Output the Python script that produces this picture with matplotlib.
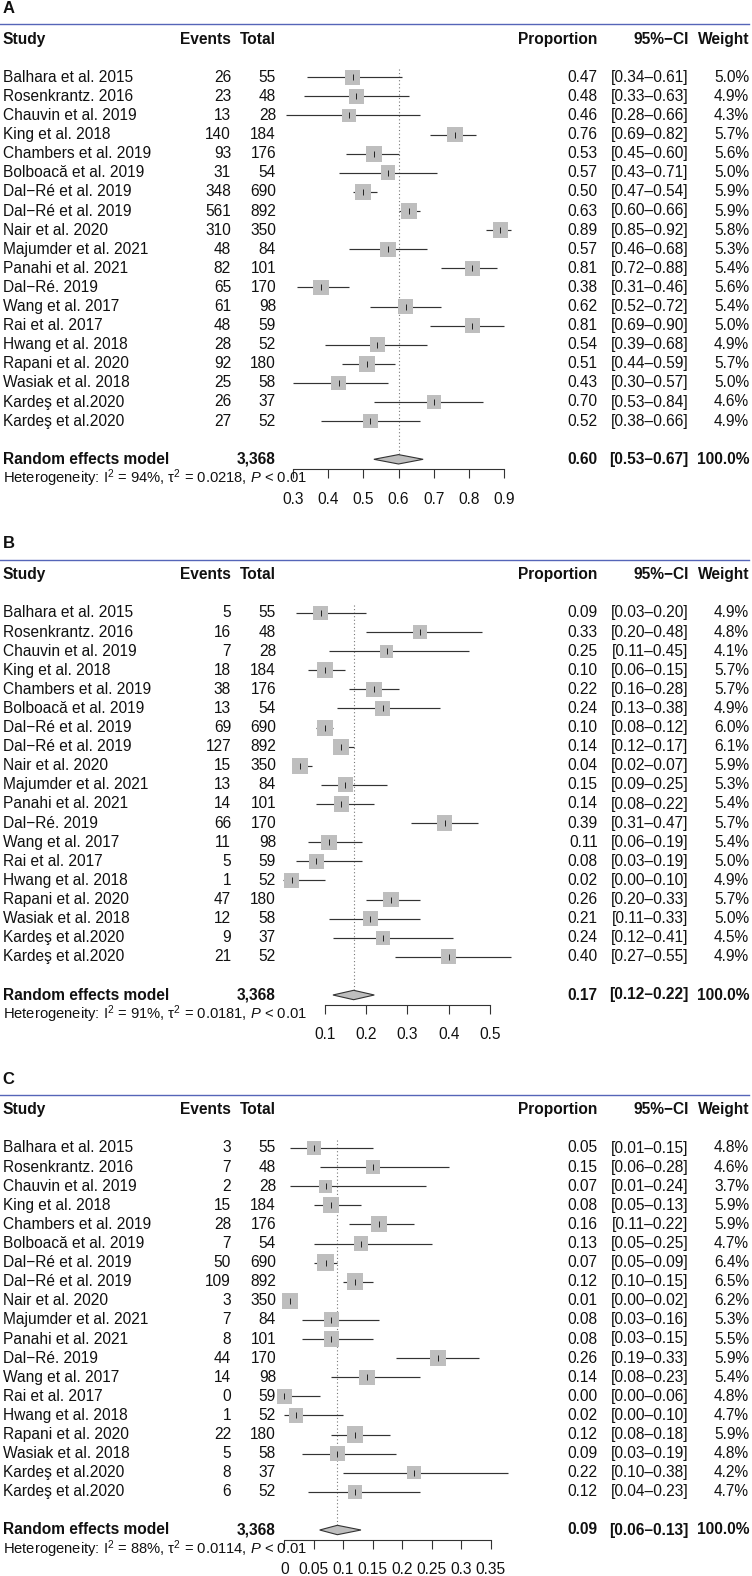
import numpy as np
import matplotlib
matplotlib.use("Agg")
import matplotlib.pyplot as plt
import matplotlib.transforms as mtransforms
from matplotlib.lines import Line2D

plt.rcParams['font.family'] = ['Liberation Sans', 'DejaVu Sans']
plt.rcParams['mathtext.fontset'] = 'custom'
plt.rcParams['mathtext.rm'] = 'Liberation Sans'
plt.rcParams['mathtext.it'] = 'Liberation Sans:italic'
plt.rcParams['mathtext.bf'] = 'Liberation Sans:bold'

# ---------------- data ----------------
studies = ["Balhara et al. 2015", "Rosenkrantz. 2016", "Chauvin et al. 2019", "King et al. 2018",
           "Chambers et al. 2019", "Bolboacă et al. 2019", "Dal\u2212Ré et al. 2019", "Dal\u2212Ré et al. 2019",
           "Nair et al. 2020", "Majumder et al. 2021", "Panahi et al. 2021", "Dal\u2212Ré. 2019",
           "Wang et al. 2017", "Rai et al. 2017", "Hwang et al. 2018", "Rapani et al. 2020",
           "Wasiak et al. 2018", "Kardeş et al.2020", "Kardeş et al.2020"]
totals = [55, 48, 28, 184, 176, 54, 690, 892, 350, 84, 101, 170, 98, 59, 52, 180, 58, 37, 52]
total_all = "3,368"

events_A = [26, 23, 13, 140, 93, 31, 348, 561, 310, 48, 82, 65, 61, 48, 28, 92, 25, 26, 27]
prop_A = [0.47, 0.48, 0.46, 0.76, 0.53, 0.57, 0.50, 0.63, 0.89, 0.57, 0.81, 0.38, 0.62, 0.81, 0.54, 0.51, 0.43, 0.70, 0.52]
lo_A = [0.34, 0.33, 0.28, 0.69, 0.45, 0.43, 0.47, 0.60, 0.85, 0.46, 0.72, 0.31, 0.52, 0.69, 0.39, 0.44, 0.30, 0.53, 0.38]
hi_A = [0.61, 0.63, 0.66, 0.82, 0.60, 0.71, 0.54, 0.66, 0.92, 0.68, 0.88, 0.46, 0.72, 0.90, 0.68, 0.59, 0.57, 0.84, 0.66]
w_A = [5.0, 4.9, 4.3, 5.7, 5.6, 5.0, 5.9, 5.9, 5.8, 5.3, 5.4, 5.6, 5.4, 5.0, 4.9, 5.7, 5.0, 4.6, 4.9]
sum_A = (0.60, 0.53, 0.67)
het_A = ("94%", "0.0218")
ticks_A = [0.3, 0.4, 0.5, 0.6, 0.7, 0.8, 0.9]
ticklabels_A = ["0.3", "0.4", "0.5", "0.6", "0.7", "0.8", "0.9"]

events_B = [5, 16, 7, 18, 38, 13, 69, 127, 15, 13, 14, 66, 11, 5, 1, 47, 12, 9, 21]
prop_B = [0.09, 0.33, 0.25, 0.10, 0.22, 0.24, 0.10, 0.14, 0.04, 0.15, 0.14, 0.39, 0.11, 0.08, 0.02, 0.26, 0.21, 0.24, 0.40]
lo_B = [0.03, 0.20, 0.11, 0.06, 0.16, 0.13, 0.08, 0.12, 0.02, 0.09, 0.08, 0.31, 0.06, 0.03, 0.00, 0.20, 0.11, 0.12, 0.27]
hi_B = [0.20, 0.48, 0.45, 0.15, 0.28, 0.38, 0.12, 0.17, 0.07, 0.25, 0.22, 0.47, 0.19, 0.19, 0.10, 0.33, 0.33, 0.41, 0.55]
w_B = [4.9, 4.8, 4.1, 5.7, 5.7, 4.9, 6.0, 6.1, 5.9, 5.3, 5.4, 5.7, 5.4, 5.0, 4.9, 5.7, 5.0, 4.5, 4.9]
sum_B = (0.17, 0.12, 0.22)
het_B = ("91%", "0.0181")
ticks_B = [0.1, 0.2, 0.3, 0.4, 0.5]
ticklabels_B = ["0.1", "0.2", "0.3", "0.4", "0.5"]

events_C = [3, 7, 2, 15, 28, 7, 50, 109, 3, 7, 8, 44, 14, 0, 1, 22, 5, 8, 6]
prop_C = [0.05, 0.15, 0.07, 0.08, 0.16, 0.13, 0.07, 0.12, 0.01, 0.08, 0.08, 0.26, 0.14, 0.00, 0.02, 0.12, 0.09, 0.22, 0.12]
lo_C = [0.01, 0.06, 0.01, 0.05, 0.11, 0.05, 0.05, 0.10, 0.00, 0.03, 0.03, 0.19, 0.08, 0.00, 0.00, 0.08, 0.03, 0.10, 0.04]
hi_C = [0.15, 0.28, 0.24, 0.13, 0.22, 0.25, 0.09, 0.15, 0.02, 0.16, 0.15, 0.33, 0.23, 0.06, 0.10, 0.18, 0.19, 0.38, 0.23]
w_C = [4.8, 4.6, 3.7, 5.9, 5.9, 4.7, 6.4, 6.5, 6.2, 5.3, 5.5, 5.9, 5.4, 4.8, 4.7, 5.9, 4.8, 4.2, 4.7]
sum_C = (0.09, 0.06, 0.13)
het_C = ("88%", "0.0114")
ticks_C = [0, 0.05, 0.1, 0.15, 0.2, 0.25, 0.3, 0.35]
ticklabels_C = ["0", "0.05", "0.1", "0.15", "0.2", "0.25", "0.3", "0.35"]

# ---------------- layout ----------------
W, H = 752, 1576
fig = plt.figure(figsize=(W / 100, H / 100), dpi=100)

def fx(px):
    return px / W

def fy(py):
    return 1 - py / H

ROW_H = 19.1
FIRST = 53.0        # first row below blue line
AXIS = 445.0        # axis line below blue line
FS = 11.2
TXT = '#111111'
SQ = '#BEBEBE'

panels = [
    ("A", 24.3, events_A, prop_A, lo_A, hi_A, w_A, sum_A, het_A, ticks_A, ticklabels_A, (293.0, 504.0)),
    ("B", 560.0, events_B, prop_B, lo_B, hi_B, w_B, sum_B, het_B, ticks_B, ticklabels_B, (324.7, 490.0)),
    ("C", 1095.0, events_C, prop_C, lo_C, hi_C, w_C, sum_C, het_C, ticks_C, ticklabels_C, (284.3, 490.7)),
]

AX_L, AX_R = 265.0, 525.0

for (lab, blue, ev, pr, lo, hi, wt, sm, het, ticks, tlabs, tpx) in panels:
    ax = fig.add_axes([fx(AX_L), fy(blue + AXIS), fx(AX_R) - fx(AX_L), AXIS / H])
    ax.set_facecolor('none')
    scale = (tpx[1] - tpx[0]) / (ticks[-1] - ticks[0])
    ax.set_xlim(ticks[0] + (AX_L - tpx[0]) / scale, ticks[0] + (AX_R - tpx[0]) / scale)
    ytop = -FIRST / ROW_H
    ybot = (AXIS - FIRST) / ROW_H
    ax.set_ylim(ybot, ytop)
    for s in ['top', 'left', 'right']:
        ax.spines[s].set_visible(False)
    ax.spines['bottom'].set_bounds(ticks[0], ticks[-1])
    ax.spines['bottom'].set_color('#333333')
    ax.spines['bottom'].set_linewidth(0.8)
    ax.set_yticks([])
    ax.set_xticks(ticks)
    ax.set_xticklabels(tlabs, fontsize=FS, color=TXT)
    ax.tick_params(axis='x', direction='out', length=6.5, width=0.8, color='#333333', pad=9.5)

    rows = np.arange(len(studies))
    srow = len(studies) + 1

    # CI lines, squares, ticks
    ax.hlines(rows, lo, hi, color='#333333', lw=0.85, zorder=1)
    sizes = [(6.6 * np.sqrt(w) * 0.72) ** 2 for w in wt]
    ax.scatter(pr, rows, marker='s', s=sizes, color=SQ, linewidths=0, zorder=2)
    ax.scatter(pr, rows, marker='|', s=14, color='#222222', linewidths=0.7, zorder=3)

    # dotted line at pooled estimate
    hh = 4.7 / ROW_H
    ax.plot([sm[0], sm[0]], [-0.42, srow - hh], ls=(0, (1, 2.2)), color='#777777', lw=0.8, zorder=0)
    # diamond
    ax.fill([sm[1], sm[0], sm[2], sm[0]], [srow, srow - hh, srow, srow + hh],
            facecolor=SQ, edgecolor='#333333', lw=0.8, zorder=3)

    trans = mtransforms.blended_transform_factory(fig.transFigure, ax.transData)

    # panel letter and blue rule
    ax.text(fx(2.5), -(FIRST + 16.0) / ROW_H, lab, transform=trans, ha='left', va='center',
            fontsize=12, fontweight='bold', color=TXT)
    fig.add_artist(Line2D([0, fx(749)], [fy(blue), fy(blue)], color='#5565b8', lw=1.0))

    # header
    hy = -2.0
    for txt, x, ha in [("Study", 2.7, 'left'), ("Events", 231, 'right'), ("Total", 276, 'right'),
                       ("Proportion", 597.7, 'right'), ("95%\u2212CI", 688.7, 'right'), ("Weight", 749, 'right')]:
        ax.text(fx(x), hy, txt, transform=trans, ha=ha, va='center', fontsize=FS,
                fontweight='bold', color=TXT)

    # study rows
    for i in range(len(studies)):
        ax.text(fx(2.7), i, studies[i], transform=trans, ha='left', va='center', fontsize=FS, color=TXT)
        ax.text(fx(231), i, str(ev[i]), transform=trans, ha='right', va='center', fontsize=FS, color=TXT)
        ax.text(fx(276), i, str(totals[i]), transform=trans, ha='right', va='center', fontsize=FS, color=TXT)
        ax.text(fx(597.7), i, f"{pr[i]:.2f}", transform=trans, ha='right', va='center', fontsize=FS, color=TXT)
        ax.text(fx(688.7), i, f"[{lo[i]:.2f}\u2013{hi[i]:.2f}]", transform=trans, ha='right', va='center',
                fontsize=FS, color=TXT)
        ax.text(fx(749), i, f"{wt[i]:.1f}%", transform=trans, ha='right', va='center', fontsize=FS, color=TXT)

    # summary row
    for txt, x, ha in [("Random effects model", 2.7, 'left'), (total_all, 276, 'right'),
                       (f"{sm[0]:.2f}", 597.7, 'right'), (f"[{sm[1]:.2f}\u2013{sm[2]:.2f}]", 688.7, 'right'),
                       ("100.0%", 749, 'right')]:
        ax.text(fx(x), srow, txt, transform=trans, ha=ha, va='center', fontsize=FS,
                fontweight='bold', color=TXT)

    # heterogeneity
    ax.text(fx(2.7), srow + 1, "Heterogeneity: I${}^2$ = " + het[0] + ", \u03c4${}^2$ = " + het[1] +
            ", $P$ < 0.01", transform=trans, ha='left', va='center', fontsize=10.6, color=TXT)

fig.savefig("out.png", dpi=100)
